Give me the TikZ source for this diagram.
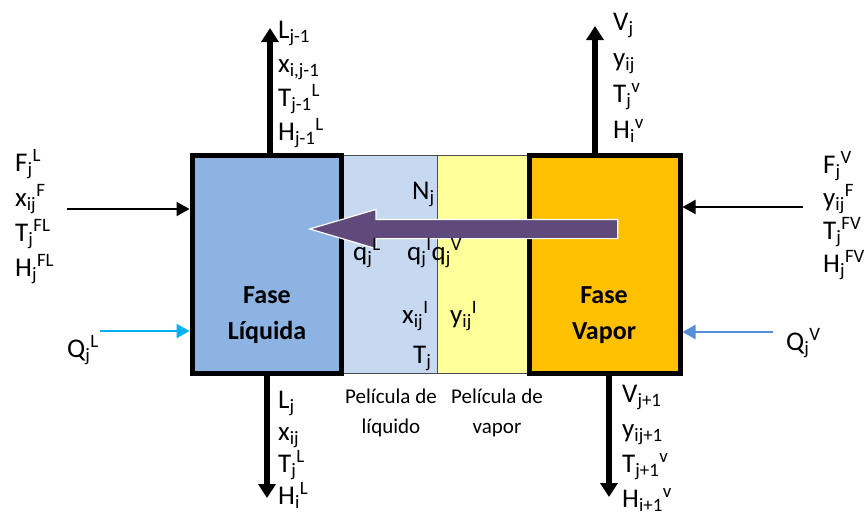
\documentclass[tikz,border=0pt]{standalone}
\usepackage{fontspec}
\setmainfont{Carlito}
\usepackage{tikz}
\usetikzlibrary{arrows.meta,shapes.arrows}
\definecolor{liqblue}{HTML}{8DB3E2}
\definecolor{filmblue}{HTML}{C6D9F1}
\definecolor{filmyellow}{HTML}{FFFF99}
\definecolor{vapgold}{HTML}{FFC000}
\definecolor{fluxpurple}{HTML}{604A7B}
\definecolor{heatL}{HTML}{00B0F0}
\definecolor{heatV}{HTML}{558ED5}
\newcommand\varlab[3]{#1\textsubscript{#2}\textsuperscript{#3}}
\tikzset{
  phase/.style={draw=black,line width=5pt,rectangle,minimum height=218pt,inner sep=0pt},
  phasetxt/.style={align=center,inner sep=0pt,font=\fontsize{26}{36}\selectfont\bfseries},
  film/.style={draw=black!70,line width=.8pt,rectangle,minimum height=218pt,inner sep=0pt},
  stream/.style={line width=5.5pt,-{Triangle[length=14pt,width=17pt]}},
  feed/.style={line width=2.2pt,-{Triangle[length=13pt,width=14pt]}},
  lbl/.style={anchor=base west,inner sep=0pt,font=\fontsize{27}{30}\selectfont},
  caption/.style={anchor=base,inner sep=0pt,align=center,font=\fontsize{21}{30}\selectfont}
}
\begin{document}
\begin{tikzpicture}[x=1pt,y=-1pt]
  \useasboundingbox (0,0) rectangle (866,515);
  % films between the two phases
  \node[film,fill=filmblue,minimum width=96pt] (filmL) at (389,264) {};
  \node[film,fill=filmyellow,minimum width=91pt] (filmV) at (482.5,264) {};
  \node[phase,fill=liqblue,minimum width=149pt] (liq) at (266.5,264) {};
  \node[phase,fill=vapgold,minimum width=151pt] (vap) at (604.5,264) {};
  \node[phasetxt] (liqtxt) at (267,315) {Fase\\Líquida};
  \node[phasetxt] (vaptxt) at (604,315) {Fase\\Vapor};
  % flux through the interface
  \node[single arrow,shape border rotate=180,fill=fluxpurple,draw=white,line width=1.2pt,
        minimum height=308pt,minimum width=38pt,inner sep=9pt,
        single arrow head extend=10pt,single arrow tip angle=33] (flux) at (480,229) {};
  % streams in and out
  \coordinate (Lup) at (270,28);
  \coordinate (Vup) at (595,26);
  \coordinate (Ldown) at (267,498);
  \coordinate (Vdown) at (609,497);
  \draw[stream] (liq.north -| Lup) -- (Lup);
  \draw[stream] (vap.north -| Vup) -- (Vup);
  \draw[stream] (liq.south -| Ldown) -- (Ldown);
  \draw[stream] (vap.south -| Vdown) -- (Vdown);
  \coordinate (FL) at (67,209);
  \coordinate (FV) at (803,207);
  \coordinate (QL) at (100,331);
  \coordinate (QV) at (773,332);
  \draw[feed] (FL) -- (FL -| liq.west);
  \draw[feed] (FV) -- (FV -| vap.east);
  \draw[feed,draw=heatL,fill=heatL] (QL) -- (QL -| liq.west);
  \draw[feed,draw=heatV,fill=heatV] (QV) -- (QV -| vap.east);
  % stream labels
  \foreach \t [count=\i] in {\varlab{F}{j}{L},\varlab{x}{ij}{F},\varlab{T}{j}{FL},\varlab{H}{j}{FL}}
    \node[lbl] (fl\i) at (15,{171+35*(\i-1)}) {\t};
  \foreach \t [count=\i] in {\varlab{F}{j}{V},\varlab{y}{ij}{F},\varlab{T}{j}{FV},\varlab{H}{j}{FV}}
    \node[lbl] (fv\i) at (823,{173+33*(\i-1)}) {\t};
  \foreach \t [count=\i] in {\varlab{L}{j-1}{},{\varlab{x}{i,j-1}{}},\varlab{T}{j-1}{L},\varlab{H}{j-1}{L}}
    \node[lbl] (lt\i) at (278,{38+34*(\i-1)}) {\t};
  \foreach \t [count=\i] in {\varlab{V}{j}{},\varlab{y}{ij}{},\varlab{T}{j}{v},\varlab{H}{i}{v}}
    \node[lbl] (vt\i) at (613,{30+36*(\i-1)}) {\t};
  \foreach \t [count=\i] in {\varlab{L}{j}{},\varlab{x}{ij}{},\varlab{T}{j}{L},\varlab{H}{i}{L}}
    \node[lbl] (lb\i) at (278,{408+32*(\i-1)}) {\t};
  \foreach \t [count=\i] in {\varlab{V}{j+1}{},\varlab{y}{ij+1}{},\varlab{T}{j+1}{v},\varlab{H}{i+1}{v}}
    \node[lbl] (vb\i) at (622,{402+35*(\i-1)}) {\t};
  \node[lbl] (qL) at (67,357) {\varlab{Q}{j}{L}};
  \node[lbl] (qV) at (786,350) {\varlab{Q}{j}{V}};
  % interface labels
  \node[lbl] (Nj) at (412,199) {\varlab{N}{j}{}};
  \node[lbl] (hqL) at (353,260) {\varlab{q}{j}{L}};
  \node[lbl] (hqI) at (407,260) {\varlab{q}{j}{I}\varlab{q}{j}{V}};
  \node[lbl] (xI) at (402,323) {\varlab{x}{ij}{I}};
  \node[lbl] (yI) at (450,323) {\varlab{y}{ij}{I}};
  \node[lbl] (Tj) at (413,363) {\varlab{T}{j}{}};
  \node[caption] (capL) at (391,433) {Película de\\líquido};
  \node[caption] (capV) at (497,433) {Película de\\vapor};
\end{tikzpicture}
\end{document}
